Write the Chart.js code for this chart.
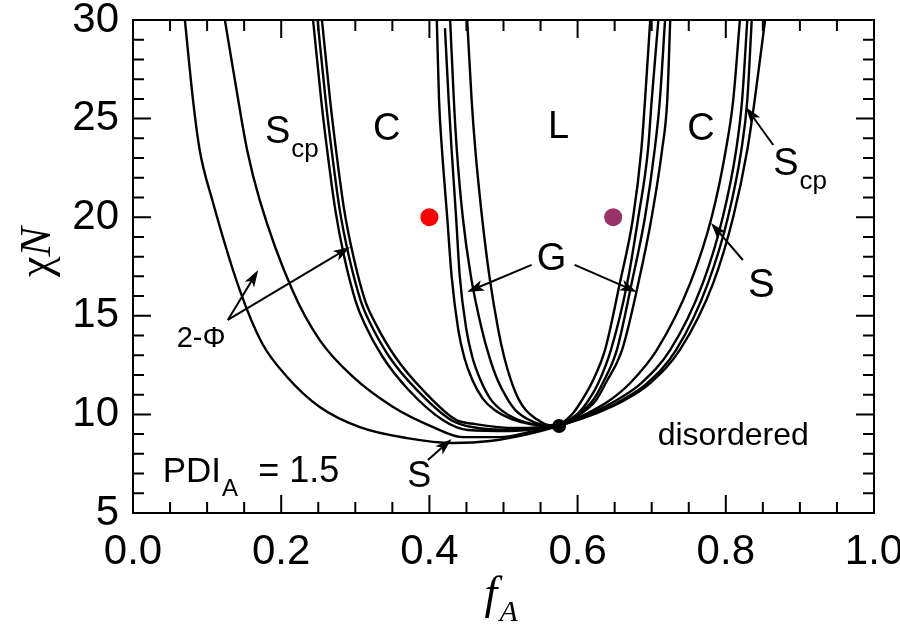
<!DOCTYPE html>
<html>
<head>
<meta charset="utf-8">
<script src="https://cdn.jsdelivr.net/npm/chart.js@4.4.1/dist/chart.umd.min.js"></script>
<style>
  html, body { margin: 0; padding: 0; background: #fff; }
  #wrap { width: 900px; height: 625px; }
</style>
</head>
<body>
<div id="wrap"><canvas id="phase"></canvas></div>
<script>
// axis ticks
const xTickValues = [0, 0.2, 0.4, 0.6, 0.8, 1.0];
const yTickValues = [5, 10, 15, 20, 25, 30];

// phase boundaries, [fA, chiN]
// left side, outer two-phase lines
const leftOuter1 = [[0.070,30],[0.081,25.94],[0.090,23.41],[0.107,20.87],[0.144,16.31],[0.174,13.62],[0.208,11.90],[0.252,10.38],[0.306,9.36],[0.370,8.80],[0.432,8.55],[0.482,8.65],[0.529,8.96],[0.575,9.41]];
const leftOuter2 = [[0.124,30],[0.142,25.94],[0.154,23.41],[0.171,20.87],[0.215,16.31],[0.252,13.77],[0.297,11.90],[0.351,10.38],[0.405,9.36],[0.445,8.85],[0.495,8.85],[0.536,9.11],[0.575,9.41]];
// left side, Scp / C lines
const leftMid1 = [[0.243,30],[0.254,25.94],[0.262,23.41],[0.273,20.37],[0.2845,18.08],[0.300,15.80],[0.312,14.63],[0.337,12.91],[0.372,11.24],[0.418,9.72],[0.452,9.21],[0.509,9.16],[0.575,9.41]];
const leftMid2 = [[0.249,30],[0.260,25.94],[0.268,23.41],[0.279,20.37],[0.291,18.08],[0.307,15.80],[0.320,14.63],[0.346,12.91],[0.383,11.24],[0.429,9.72],[0.457,9.36],[0.512,9.21],[0.575,9.41]];
const leftMid3 = [[0.255,30],[0.266,25.94],[0.274,23.41],[0.285,20.37],[0.297,18.08],[0.313,15.80],[0.327,14.63],[0.354,12.91],[0.391,11.24],[0.436,9.72],[0.462,9.51],[0.516,9.31],[0.575,9.41]];
// left side, C / G / L lines
const leftInner1 = [[0.410,30],[0.413,25.94],[0.417,23.41],[0.424,20.01],[0.430,17],[0.439,14.28],[0.447,12.9],[0.458,11.74],[0.472,10.8],[0.488,10.22],[0.512,9.75],[0.536,9.51],[0.575,9.41]];
const leftInner2 = [[0.421,29.59],[0.426,25.94],[0.430,23.41],[0.436,20.01],[0.441,17],[0.450,14.28],[0.458,12.9],[0.469,11.74],[0.482,10.8],[0.497,10.22],[0.518,9.75],[0.540,9.51],[0.575,9.41]];
const leftInner3 = [[0.428,30],[0.433,25.94],[0.437,23.41],[0.445,20.01],[0.456,17],[0.471,14.28],[0.481,12.9],[0.492,11.74],[0.505,10.8],[0.516,10.22],[0.533,9.75],[0.549,9.51],[0.575,9.41]];
const leftInner4 = [[0.451,30],[0.457,25.94],[0.462,23.41],[0.471,20.01],[0.481,17],[0.493,14.28],[0.501,12.9],[0.510,11.74],[0.520,10.8],[0.530,10.22],[0.545,9.75],[0.556,9.51],[0.575,9.41]];
// right side, L / G / C lines
const rightInner1 = [[0.575,9.41],[0.594,10.07],[0.606,10.73],[0.619,11.59],[0.637,13.27],[0.657,16.66],[0.675,20.01],[0.686,23.41],[0.691,25.94],[0.698,30]];
const rightInner2 = [[0.575,9.41],[0.601,10.07],[0.615,10.73],[0.628,11.59],[0.645,13.27],[0.667,16.66],[0.682,20.01],[0.695,23.41],[0.700,25.94],[0.709,30]];
const rightInner3 = [[0.575,9.41],[0.603,10.07],[0.621,10.73],[0.634,11.59],[0.653,13.27],[0.673,16.66],[0.691,20.01],[0.704,23.41],[0.711,25.94],[0.718,30]];
const rightInner4 = [[0.575,9.41],[0.606,10.07],[0.625,10.73],[0.638,11.59],[0.660,13.27],[0.682,16.66],[0.700,20.01],[0.714,23.41],[0.721,25.94],[0.725,30]];
// right side, C / Scp / S / disordered lines
const rightOuter1 = [[0.575,9.41],[0.614,10.07],[0.644,10.73],[0.671,11.59],[0.707,13.27],[0.752,16.66],[0.781,20.01],[0.800,23.41],[0.810,25.94],[0.819,30]];
const rightOuter2 = [[0.575,9.41],[0.619,10.07],[0.653,10.73],[0.686,11.59],[0.725,13.27],[0.769,16.66],[0.796,20.01],[0.814,23.41],[0.822,25.94],[0.829,30]];
const rightOuter3 = [[0.575,9.41],[0.624,10.07],[0.660,10.73],[0.694,11.59],[0.733,13.27],[0.776,16.66],[0.803,20.01],[0.821,23.41],[0.829,25.94],[0.835,30]];
const rightOuter4 = [[0.575,9.41],[0.626,10.07],[0.664,10.73],[0.698,11.59],[0.738,13.27],[0.783,16.66],[0.810,20.01],[0.829,23.41],[0.839,25.94],[0.853,30]];

// marked points
const criticalPoint = [[0.575, 9.41]];
const redPoint = [[0.40, 20]];
const purplePoint = [[0.648, 20]];

const curves = [leftOuter1, leftOuter2, leftMid1, leftMid2, leftMid3,
  leftInner1, leftInner2, leftInner3, leftInner4,
  rightInner1, rightInner2, rightInner3, rightInner4,
  rightOuter1, rightOuter2, rightOuter3, rightOuter4];

const toPts = arr => arr.map(p => ({ x: p[0], y: p[1] }));
const SANS = '"Liberation Sans", Arial, sans-serif';
const SERIF = '"Liberation Serif", "Times New Roman", serif';

const datasets = curves.map(c => ({
  data: toPts(c),
  showLine: true,
  borderColor: '#000',
  borderWidth: 2.4,
  pointRadius: 0,
  cubicInterpolationMode: 'monotone',
  fill: false
}));
datasets.push({ data: toPts(redPoint), pointRadius: 9, backgroundColor: '#ff0000', borderWidth: 0 });
datasets.push({ data: toPts(purplePoint), pointRadius: 9, backgroundColor: '#993366', borderWidth: 0 });
datasets.push({ data: toPts(criticalPoint), pointRadius: 7, backgroundColor: '#000', borderWidth: 0 });

function arrow(ctx, x1, y1, x2, y2) {
  const a = Math.atan2(y2 - y1, x2 - x1), L = 17, W = 5.5;
  const c = Math.cos(a), s = Math.sin(a);
  ctx.beginPath();
  ctx.moveTo(x1, y1);
  ctx.lineTo(x2 - L * 0.6 * c, y2 - L * 0.6 * s);
  ctx.stroke();
  ctx.beginPath();
  ctx.moveTo(x2, y2);
  ctx.lineTo(x2 - L * c + W * s, y2 - L * s - W * c);
  ctx.lineTo(x2 - L * 0.75 * c, y2 - L * 0.75 * s);
  ctx.lineTo(x2 - L * c - W * s, y2 - L * s + W * c);
  ctx.closePath();
  ctx.fill();
}

// text with a subscript, (X, Y) is the baseline start of the main text
function subText(ctx, main, sub, X, Y, size, subSize, dy) {
  ctx.textAlign = 'left';
  ctx.textBaseline = 'alphabetic';
  ctx.font = size + 'px ' + SANS;
  ctx.fillText(main, X, Y);
  const w = ctx.measureText(main).width;
  if (sub) {
    ctx.font = subSize + 'px ' + SANS;
    ctx.fillText(sub, X + w + 1, Y + dy);
    return X + w + 1 + ctx.measureText(sub).width;
  }
  return X + w;
}

const annotate = {
  id: 'annotate',
  afterDatasetsDraw(chart) {
    const { ctx, chartArea: a, scales: { x, y } } = chart;
    const px = v => x.getPixelForValue(v);
    const py = v => y.getPixelForValue(v);
    ctx.save();
    ctx.strokeStyle = '#000';
    ctx.fillStyle = '#000';

    // frame and inward ticks on all four sides
    ctx.lineWidth = 2;
    ctx.strokeRect(a.left, a.top, a.right - a.left, a.bottom - a.top);
    ctx.beginPath();
    for (let i = 0; i <= 20; i++) {
      const X = px(i * 0.05), len = i % 4 === 0 ? 18 : 11;
      ctx.moveTo(X, a.bottom); ctx.lineTo(X, a.bottom - len);
      ctx.moveTo(X, a.top); ctx.lineTo(X, a.top + len);
    }
    for (let v = 5; v <= 30; v++) {
      const Y = py(v), len = v % 5 === 0 ? 18 : 11;
      ctx.moveTo(a.left, Y); ctx.lineTo(a.left + len, Y);
      ctx.moveTo(a.right, Y); ctx.lineTo(a.right - len, Y);
    }
    ctx.stroke();

    // arrows
    ctx.lineWidth = 2;
    arrow(ctx, px(0.128), py(14.79), px(0.169), py(17.32));
    arrow(ctx, px(0.128), py(14.79), px(0.293), py(18.49));
    arrow(ctx, px(0.538), py(17.58), px(0.451), py(16.21));
    arrow(ctx, px(0.596), py(17.58), px(0.680), py(16.21));
    arrow(ctx, px(0.864), py(23.66), px(0.827), py(25.59));
    arrow(ctx, px(0.823), py(17.83), px(0.780), py(19.71));
    arrow(ctx, px(0.398), py(7.69), px(0.430), py(8.75));

    // region labels
    subText(ctx, 'S', 'cp', px(0.178), py(23.76), 38, 26, 14);
    subText(ctx, 'C', null, px(0.324), py(23.91), 38);
    subText(ctx, 'L', null, px(0.560), py(24.02), 38);
    subText(ctx, 'C', null, px(0.748), py(23.91), 38);
    subText(ctx, 'S', 'cp', px(0.864), py(22.14), 38, 26, 14);
    subText(ctx, 'G', null, px(0.545), py(17.32), 38);
    subText(ctx, 'S', null, px(0.830), py(15.95), 40);
    subText(ctx, 'S', null, px(0.370), py(6.32), 36);
    subText(ctx, '2-Φ', null, px(0.059), py(13.42), 29);
    subText(ctx, 'disordered', null, px(0.708), py(8.45), 32);
    subText(ctx, 'PDI', 'A', px(0.040), py(6.57), 35, 24, 14);
    subText(ctx, '= 1.5', null, px(0.169), py(6.57), 36);

    // x axis title f_A
    const cx = (a.left + a.right) / 2;
    ctx.textAlign = 'left';
    ctx.font = 'italic 46px ' + SERIF;
    ctx.fillText('f', cx - 19, 608);
    ctx.font = 'italic 30px ' + SERIF;
    ctx.fillText('A', cx - 4, 621);

    // y axis title chi N
    ctx.translate(50, 252);
    ctx.rotate(-Math.PI / 2);
    ctx.font = '46px ' + SERIF;
    const wChi = ctx.measureText('χ').width;
    ctx.font = 'italic 44px ' + SERIF;
    const wN = ctx.measureText('N').width;
    const start = -(wChi + wN) / 2;
    ctx.font = '46px ' + SERIF;
    ctx.fillText('χ', start, 0);
    ctx.font = 'italic 44px ' + SERIF;
    ctx.fillText('N', start + wChi, 0);
    ctx.restore();
  }
};

new Chart(document.getElementById('phase'), {
  type: 'scatter',
  data: { datasets: datasets },
  options: {
    responsive: true,
    maintainAspectRatio: false,
    animation: false,
    layout: { padding: { top: 20, right: 26, left: 0, bottom: 0 } },
    plugins: { legend: { display: false }, tooltip: { enabled: false } },
    scales: {
      x: {
        type: 'linear',
        min: 0,
        max: 1,
        afterFit: s => { s.height = 112; s.paddingLeft = 0; s.paddingRight = 0; },
        afterBuildTicks: s => { s.ticks = xTickValues.map(v => ({ value: v })); },
        ticks: {
          color: '#000',
          padding: 14,
          maxRotation: 0,
          font: { family: SANS, size: 42 },
          callback: v => Number(v).toFixed(1)
        },
        grid: { display: false, drawTicks: false },
        border: { display: false }
      },
      y: {
        type: 'linear',
        min: 5,
        max: 30,
        afterFit: s => { s.width = 133; s.paddingTop = 0; s.paddingBottom = 0; },
        afterBuildTicks: s => { s.ticks = yTickValues.map(v => ({ value: v })); },
        ticks: {
          color: '#000',
          padding: 14,
          font: { family: SANS, size: 42 },
          callback: v => String(v)
        },
        grid: { display: false, drawTicks: false },
        border: { display: false }
      }
    }
  },
  plugins: [annotate]
});
</script>
</body>
</html>
